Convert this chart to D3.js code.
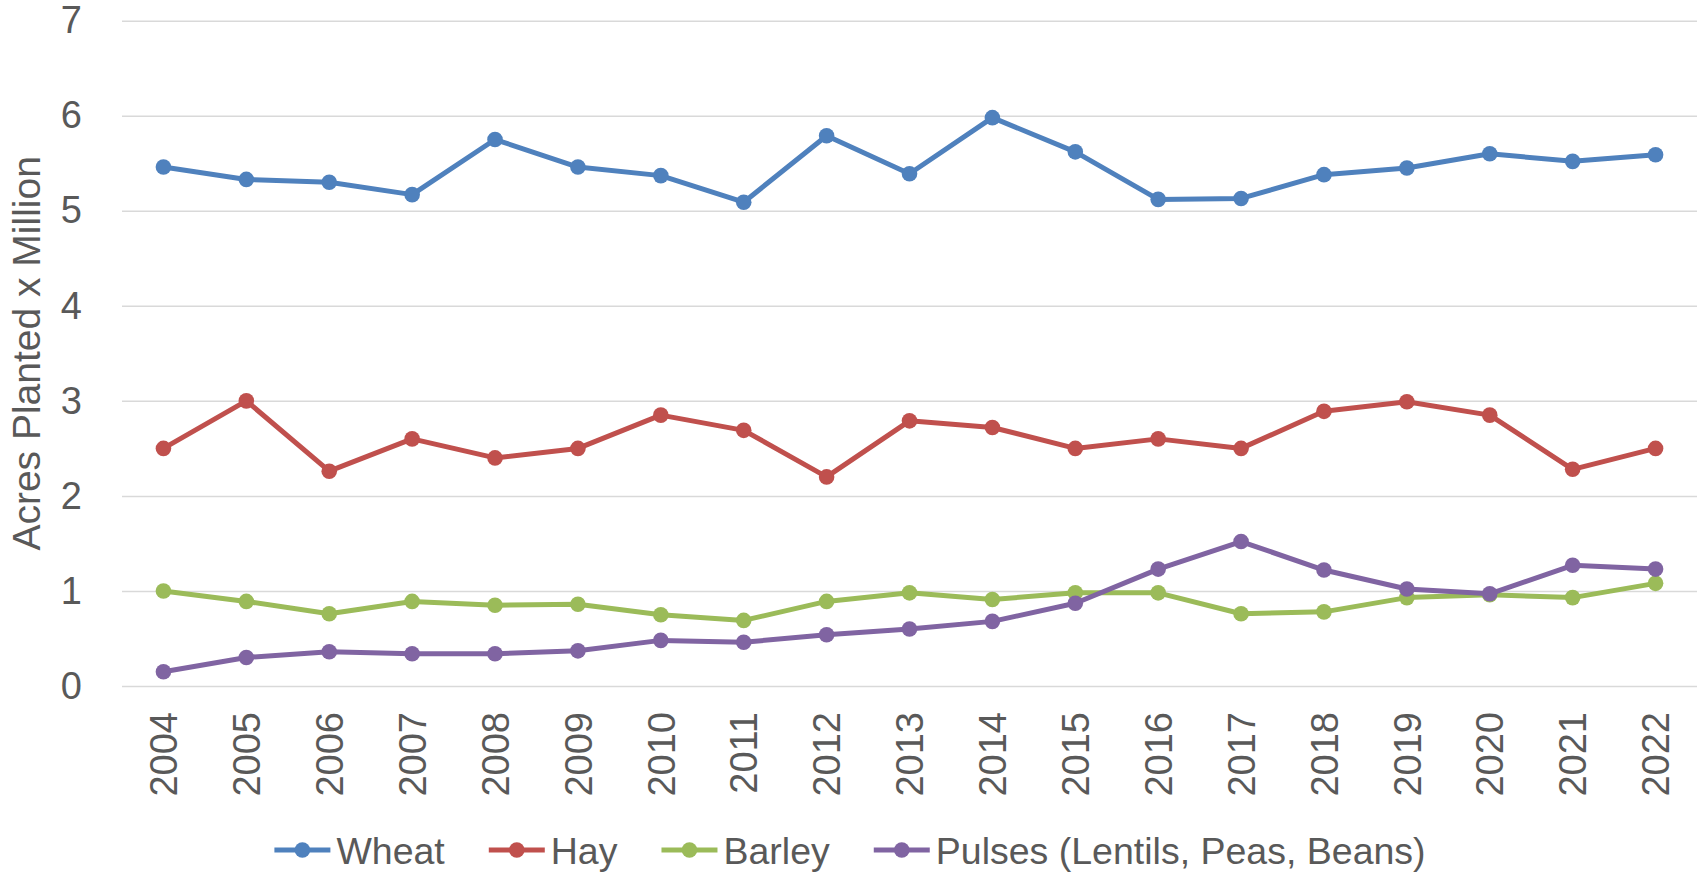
<!DOCTYPE html>
<html>
<head>
<meta charset="utf-8">
<script src="https://cdn.jsdelivr.net/npm/d3@7"></script>
<style>
  html, body { margin: 0; padding: 0; background: #fff; }
  svg { display: block; }
  text { font-family: "Liberation Sans", Arial, sans-serif; fill: #595959; }
</style>
</head>
<body>
<svg id="chart" width="1700" height="872"></svg>
<script>
const years = ["2004","2005","2006","2007","2008","2009","2010","2011","2012","2013","2014","2015","2016","2017","2018","2019","2020","2021","2022"];
const wheat  = [5.46,5.33,5.30,5.17,5.75,5.46,5.37,5.09,5.79,5.39,5.98,5.62,5.12,5.13,5.38,5.45,5.60,5.52,5.59];
const hay    = [2.50,3.00,2.26,2.60,2.40,2.50,2.85,2.69,2.20,2.79,2.72,2.50,2.60,2.50,2.89,2.99,2.85,2.28,2.50];
const barley = [1.00,0.89,0.76,0.89,0.85,0.86,0.75,0.69,0.89,0.98,0.91,0.98,0.98,0.76,0.78,0.93,0.96,0.93,1.08];
const pulses = [0.15,0.30,0.36,0.34,0.34,0.37,0.48,0.46,0.54,0.60,0.68,0.87,1.23,1.52,1.22,1.02,0.97,1.27,1.23];
const seriesNames = ["Wheat","Hay","Barley","Pulses (Lentils, Peas, Beans)"];
const seriesColors = ["#4f81bd","#c0504d","#9bbb59","#8064a2"];
const yTicks = [0,1,2,3,4,5,6,7];
const yTitle = "Acres Planted x Million";

const series = [wheat, hay, barley, pulses].map((vals, i) => ({
  name: seriesNames[i], color: seriesColors[i], values: vals
}));

const svg = d3.select("#chart");
const plot = { left: 122, right: 1697, top: 20.7, bottom: 686 };
const FONT = '"Liberation Sans", Arial, sans-serif';
const FS = 38;

const x = d3.scaleBand().domain(years).range([plot.left, plot.right]);
const y = d3.scaleLinear().domain([0, 7]).range([plot.bottom, plot.top]);
const cx = d => x(d) + x.bandwidth() / 2;

// gridlines + y labels
const yAxis = svg.append("g")
  .attr("transform", `translate(${plot.left},0)`)
  .call(d3.axisLeft(y).tickValues(yTicks).tickSize(-(plot.right - plot.left)).tickPadding(40).tickFormat(d3.format("d")));
yAxis.select(".domain").remove();
yAxis.selectAll(".tick line").attr("stroke", "#d9d9d9").attr("stroke-width", 1.5);
yAxis.selectAll(".tick text")
  .attr("font-size", FS)
  .attr("fill", "#595959")
  .style("font-family", FONT);

// x labels
const xAxis = svg.append("g")
  .attr("transform", `translate(0,${plot.bottom})`)
  .call(d3.axisBottom(x).tickSize(0).tickPadding(0));
xAxis.select(".domain").remove();
xAxis.selectAll(".tick text")
  .attr("font-size", FS)
  .attr("fill", "#595959")
  .style("font-family", FONT)
  .attr("text-anchor", "end")
  .attr("transform", "translate(0,26) rotate(-90)")
  .attr("x", 0).attr("y", 0).attr("dy", "0.36em");

// y title
svg.append("text")
  .attr("transform", `translate(40,${(plot.top + plot.bottom) / 2}) rotate(-90)`)
  .attr("text-anchor", "middle")
  .attr("font-size", 39)
  .text(yTitle);

// lines
const line = d3.line().x((d, i) => cx(years[i])).y(d => y(d));
series.forEach(s => {
  const g = svg.append("g");
  g.append("path")
    .attr("d", line(s.values))
    .attr("fill", "none")
    .attr("stroke", s.color)
    .attr("stroke-width", 5)
    .attr("stroke-linejoin", "round");
  g.selectAll("circle").data(s.values).join("circle")
    .attr("cx", (d, i) => cx(years[i]))
    .attr("cy", d => y(d))
    .attr("r", 7.8)
    .attr("fill", s.color);
});

// legend
const legend = svg.append("g");
const items = legend.selectAll("g").data(series).join("g");
items.append("line").attr("x1", 0).attr("x2", 56).attr("y1", 0).attr("y2", 0)
  .attr("stroke", d => d.color).attr("stroke-width", 5);
items.append("circle").attr("cx", 28).attr("cy", 0).attr("r", 7.8).attr("fill", d => d.color);
items.append("text").attr("x", 62).attr("y", 0).attr("dy", "0.36em")
  .attr("font-size", 37.5).text(d => d.name);
let offset = 0;
const gap = 44;
items.each(function() {
  const w = 62 + d3.select(this).select("text").node().getComputedTextLength();
  d3.select(this).attr("transform", `translate(${offset},0)`);
  offset += w + gap;
});
const total = offset - gap;
legend.attr("transform", `translate(${850 - total / 2},850)`);
</script>
</body>
</html>
